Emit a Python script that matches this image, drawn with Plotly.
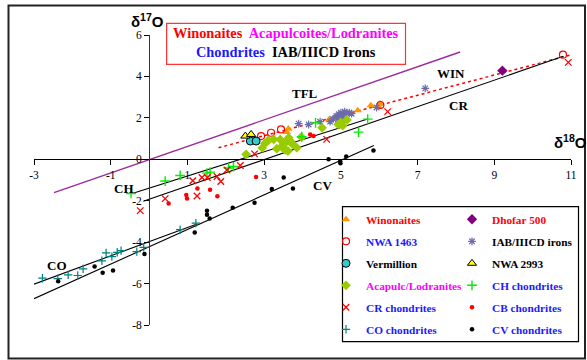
import plotly.graph_objects as go

# ---------------- data (delta18O = x, delta17O = y) ----------------
win_x = [3.59, 3.63, 4.70, 4.85, 4.95, 5.05, 5.44, 5.78, 5.98, 6.02]
win_y = [1.31, 1.47, 1.93, 2.05, 2.12, 2.20, 2.36, 2.60, 2.56, 2.68]

nwa1463_x = [2.92, 3.18, 3.44, 6.03, 10.79]
nwa1463_y = [1.12, 1.28, 1.44, 2.62, 5.05]

dhofar_x = [9.21]
dhofar_y = [4.28]

iab_x = [3.90, 4.16, 4.46, 4.72, 4.80, 4.88, 4.95, 5.00, 5.05, 5.10, 5.15, 5.22, 5.28, 4.92, 5.02, 5.93, 7.20]
iab_y = [1.72, 1.68, 1.82, 1.82, 1.95, 2.08, 2.18, 2.25, 2.10, 2.30, 2.22, 2.25, 2.20, 1.90, 1.98, 2.50, 3.42]

verm_x = [2.64, 2.79]
verm_y = [0.88, 0.88]

nwa2993_x = [2.51, 2.66]
nwa2993_y = [1.12, 1.20]

acap_x = [2.53, 2.95, 3.02, 3.11, 3.25, 3.33, 3.42, 3.46, 3.50, 3.55, 3.58,
          3.62, 3.64, 3.68, 3.73, 3.85, 3.97, 4.51, 4.93, 5.00, 5.05, 5.16]
acap_y = [0.24, 0.55, 0.77, 0.91, 0.96, 0.51, 0.96, 0.60, 0.72, 0.45, 0.85,
          0.40, 1.04, 0.88, 0.75, 0.56, 1.07, 1.52, 1.68, 1.78, 1.62, 1.90]

ch_x = [-0.47, 0.42, 0.81, 1.51, 1.59, 2.07, 2.20, 3.98, 4.34, 5.46, 5.70]
ch_y = [-1.65, -1.05, -0.78, -0.67, -0.62, -0.42, -0.35, 1.09, 1.76, 1.31, 1.94]

cr_x = [-0.23, 0.42, 1.14, 1.25, 1.38, 1.52, 1.77, 1.87, 2.03, 2.38, 2.75, 4.63, 6.22, 10.93]
cr_y = [-2.48, -1.90, -1.04, -1.77, -0.88, -0.88, -0.83, -1.07, -0.52, -0.30, 0.26, 0.96, 2.30, 4.68]

cb_x = [0.51, 0.97, 0.99, 1.26, 1.59, 1.78, 2.79, 4.20, 4.29]
cb_y = [-2.14, -1.73, -1.89, -1.41, -1.47, -1.79, -0.85, 1.20, 1.12]

co_x = [-2.78, -2.38, -2.11, -1.86, -1.72, -1.23, -1.12, -0.97, -0.83, -0.73, -0.32, -0.14, 0.81, 1.22]
co_y = [-5.74, -5.76, -5.58, -5.61, -5.29, -4.90, -4.52, -4.70, -4.49, -4.41, -4.46, -4.25, -3.40, -3.08]

cv_x = [-2.37, -1.42, -1.21, -0.94, -0.12, 1.19, 1.51, 1.51, 1.58, 2.18, 2.75, 3.20, 3.51, 3.75, 4.68, 4.98, 4.99, 5.14, 5.85]
cv_y = [-5.89, -5.18, -5.48, -5.37, -4.57, -3.54, -2.48, -2.68, -2.86, -2.34, -2.10, -1.44, -0.88, -1.41, 0.00, -0.10, -0.19, 0.13, 0.42]

# fractionation / mixing lines (end points)
tfl_x = [-2.48, 8.11]
tfl_y = [-1.61, 5.18]
winline_x = [1.81, 11.28]
winline_y = [0.56, 5.18]
crline_x = [-0.15, 10.80]
crline_y = [-2.03, 4.97]
chline_x = [-0.46, 5.70]
chline_y = [-1.66, 1.94]
cvline_x = [-3.0, 5.86]
cvline_y = [-6.73, 0.67]
coline_x = [-3.0, 1.25]
coline_y = [-6.03, -3.12]

# line labels
line_label_text = ["TFL", "WIN", "CR", "CH", "CV", "CO"]
line_label_x = [4.06, 7.87, 8.07, -0.65, 4.52, -2.40]
line_label_y = [3.19, 4.15, 2.62, -1.40, -1.27, -5.14]

# axis ticks
x_tick_vals = [-3, -1, 1, 3, 5, 7, 9, 11]
x_tick_text = ["-3", "-1", "1", "3", "5", "7", "9", "11"]
y_tick_vals = [-8, -6, -4, -2, 0, 2, 4, 6]
y_tick_text = ["-8", "-6", "-4", "-2", "0", "2", "4", "6"]

X_MIN, X_MAX = -3, 11
Y_MIN, Y_MAX = -8, 6

RED = "#ff0000"
BLUE = "#1a1aff"
MAG = "#ff00ff"
BLK = "#000000"


def lab(text, color):
    return '<span style="color:%s">%s</span>' % (color, text)


fig = go.Figure()


def add_line(xs, ys, color, width, dash="solid"):
    fig.add_trace(go.Scatter(x=xs, y=ys, mode="lines",
                             line=dict(color=color, width=width, dash=dash),
                             showlegend=False, hoverinfo="skip"))


add_line(tfl_x, tfl_y, "#9a2a9e", 1.4)
add_line(winline_x, winline_y, RED, 1.5, "dot")
add_line(crline_x, crline_y, BLK, 1.1)
add_line(chline_x, chline_y, BLK, 1.1)
add_line(cvline_x, cvline_y, BLK, 1.1)
add_line(coline_x, coline_y, BLK, 1.1)


def add_pts(xs, ys, name, legend, symbol, size, color, line_color=None, line_width=0):
    fig.add_trace(go.Scatter(
        x=xs, y=ys, mode="markers", name=name, legend=legend,
        legendgroup=name, cliponaxis=False,
        marker=dict(symbol=symbol, size=size, color=color,
                    line=dict(color=line_color if line_color else color, width=line_width)),
    ))


# added in legend order (column 1 -> legend, column 2 -> legend2)
add_pts(win_x, win_y, lab("Winonaites", RED), "legend", "triangle-up", 7.5, "#ff9900")
add_pts(dhofar_x, dhofar_y, lab("Dhofar 500", RED), "legend2", "diamond", 8, "#800080")
add_pts(nwa1463_x, nwa1463_y, lab("NWA 1463", BLUE), "legend", "circle-open", 7, RED, RED, 1.2)
add_pts(iab_x, iab_y, lab("IAB/IIICD irons", BLK), "legend2", "asterisk-open", 6.5, "#6b6bad", "#6b6bad", 1.2)
add_pts(verm_x, verm_y, lab("Vermillion", BLK), "legend", "circle", 8, "#33cccc", BLK, 1)
add_pts(nwa2993_x, nwa2993_y, lab("NWA 2993", BLK), "legend2", "triangle-up", 8, "#ffff00", BLK, 1)
add_pts(acap_x, acap_y, lab("Acapulc/Lodranites", MAG), "legend", "diamond", 7.5, "#99cc00")
add_pts(ch_x, ch_y, lab("CH chondrites", BLUE), "legend2", "cross-thin-open", 7, "#00ee00", "#00ee00", 1.4)
add_pts(cr_x, cr_y, lab("CR chondrites", BLUE), "legend", "x-thin-open", 6.5, RED, RED, 1.3)
add_pts(cb_x, cb_y, lab("CB chondrites", BLUE), "legend2", "circle", 4.5, RED)
add_pts(co_x, co_y, lab("CO chondrites", BLUE), "legend", "cross-thin-open", 6, "#008080", "#008080", 1.2)
add_pts(cv_x, cv_y, lab("CV chondrites", BLUE), "legend2", "circle", 4.5, BLK)

# line labels
for t, lx, ly in zip(line_label_text, line_label_x, line_label_y):
    fig.add_annotation(x=lx, y=ly, text="<b>%s</b>" % t, showarrow=False,
                       xanchor="center", yanchor="middle",
                       font=dict(family="Liberation Serif", size=13, color="black"))

# --- layout geometry (pixels -> paper) ---
W, H = 587, 360
ML, MR, MT, MB = 34, 16, 35, 35
PW = W - ML - MR
PH = H - MT - MB


def px(xp):
    return (xp - ML) / PW


def py(yp):
    return (H - MB - yp) / PH


# title box
fig.add_shape(type="rect", xref="paper", yref="paper",
              x0=px(166.6), x1=px(405.5), y0=py(64.3), y1=py(23.3),
              line=dict(color="#ff3333", width=1.2), fillcolor="white", layer="below")
fig.add_annotation(xref="paper", yref="paper", x=px(286), y=py(42.5),
                   xanchor="center", yanchor="middle",
                   text="<b>" + lab("Winonaites", RED) + "\u00a0 " + lab("Acapulcoites/Lodranites", MAG)
                   + "<br>" + lab("Chondrites", BLUE) + "\u00a0 " + lab("IAB/IIICD Irons", BLK) + "</b>",
                   showarrow=False, align="center",
                   font=dict(family="Liberation Serif", size=14.4, color="black"))

# axis titles
fig.add_annotation(xref="paper", yref="paper", x=px(147), y=py(20.5),
                   xanchor="center", yanchor="middle",
                   text="<b>δ<sup>17</sup>O</b>", showarrow=False,
                   font=dict(family="Liberation Sans", size=15, color="black"))
fig.add_annotation(xref="paper", yref="paper", x=px(570), y=py(141.5),
                   xanchor="center", yanchor="middle",
                   text="<b>δ<sup>18</sup>O</b>", showarrow=False,
                   font=dict(family="Liberation Sans", size=15, color="black"))

# legend box
fig.add_shape(type="rect", xref="paper", yref="paper",
              x0=px(342.5), x1=px(578.5), y0=py(341.7), y1=py(206.7),
              line=dict(color="black", width=1.2), fillcolor="white", layer="below")

# outer frame
fig.add_shape(type="rect", xref="paper", yref="paper",
              x0=px(8.5), x1=px(585), y0=py(358.5), y1=py(5.5),
              line=dict(color="#222222", width=2), layer="below")

legend_font = dict(family="Liberation Serif", size=11.3, color="black", weight="bold")

fig.update_layout(
    width=W, height=H,
    margin=dict(l=ML, r=MR, t=MT, b=MB, autoexpand=False),
    paper_bgcolor="white", plot_bgcolor="rgba(0,0,0,0)",
    font=dict(family="Liberation Serif", size=11.5, color="black"),
    showlegend=True,
    legend=dict(x=px(326), y=py(204.8), xanchor="left", yanchor="top",
                bgcolor="rgba(0,0,0,0)", borderwidth=0, font=legend_font,
                tracegroupgap=3, traceorder="grouped"),
    legend2=dict(x=px(452), y=py(204.8), xanchor="left", yanchor="top",
                 bgcolor="rgba(0,0,0,0)", borderwidth=0, font=legend_font,
                 tracegroupgap=3, traceorder="grouped"),
    xaxis=dict(range=[X_MIN, X_MAX], anchor="free",
               position=(0 - Y_MIN) / (Y_MAX - Y_MIN),
               showgrid=False, zeroline=False, showline=True, linecolor="black", linewidth=1,
               ticks="outside", ticklen=5, tickcolor="black",
               tickvals=x_tick_vals, ticktext=x_tick_text,
               tickfont=dict(family="Liberation Serif", size=11.5, color="black")),
    yaxis=dict(range=[Y_MIN, Y_MAX], anchor="free",
               position=(0 - X_MIN) / (X_MAX - X_MIN),
               showgrid=False, zeroline=False, showline=True, linecolor="#333333", linewidth=1,
               ticks="outside", ticklen=5, tickcolor="black",
               tickvals=y_tick_vals, ticktext=y_tick_text,
               tickfont=dict(family="Liberation Serif", size=11.5, color="black")),
)

fig.write_html("out.html",
               config={"displayModeBar": False},
               post_script="document.body.style.margin='0px';document.body.style.overflow='hidden';")
